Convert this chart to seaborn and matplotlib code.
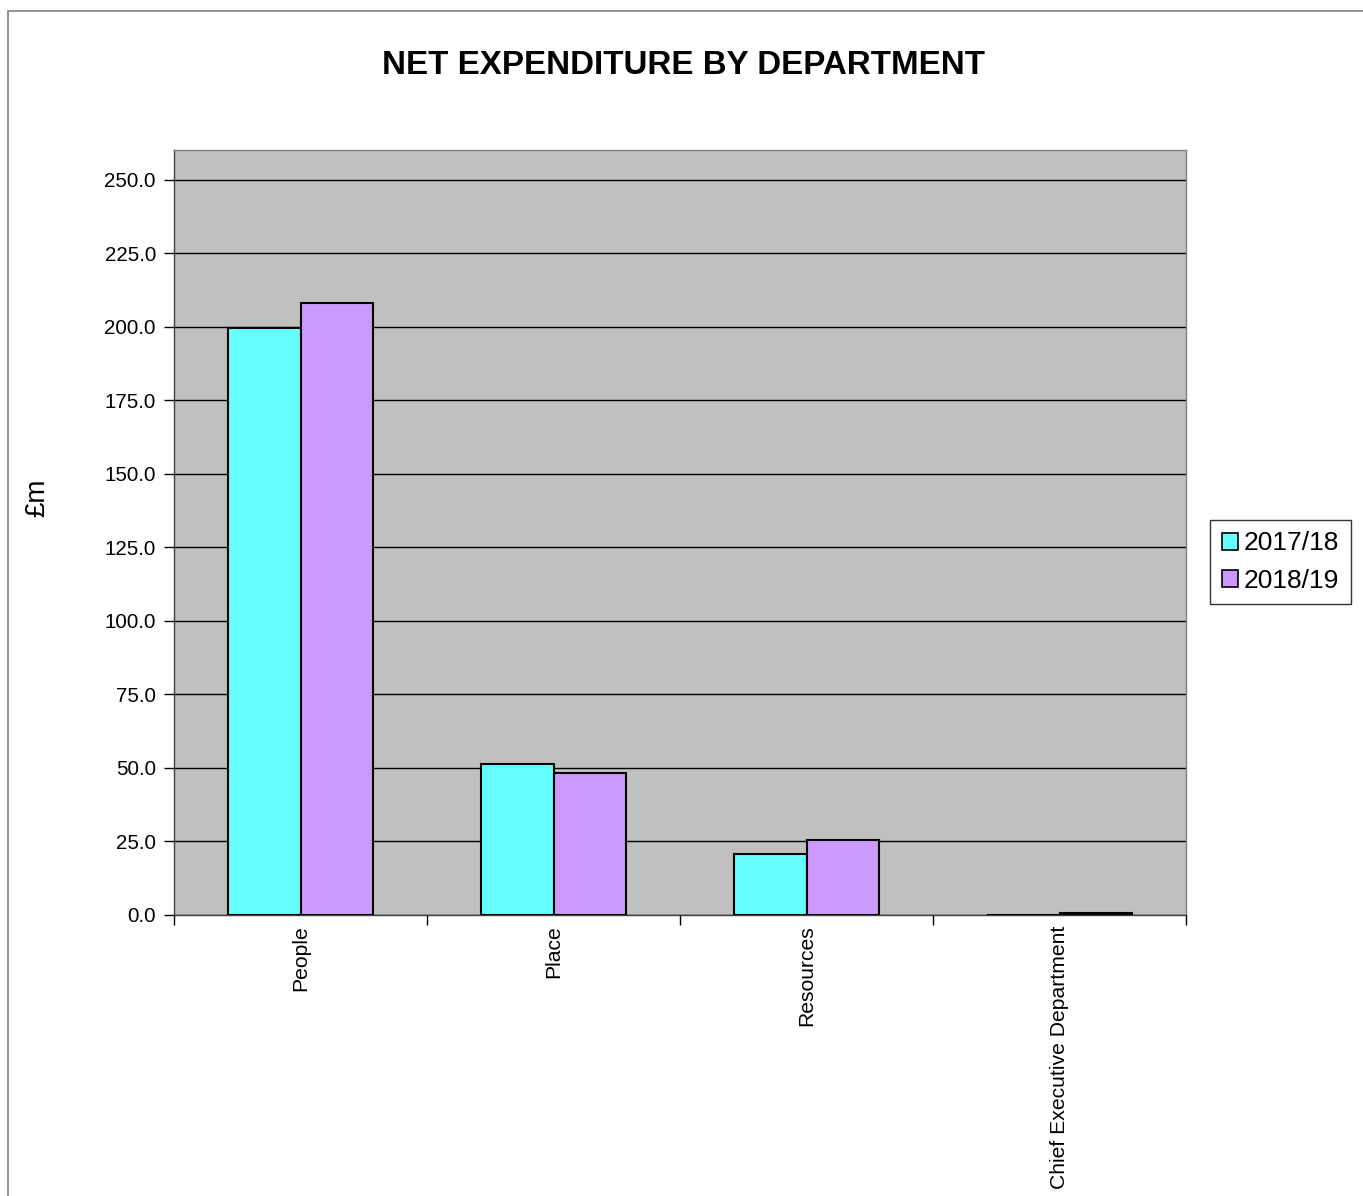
import matplotlib
matplotlib.use("Agg")
import matplotlib.pyplot as plt
from matplotlib.patches import Patch, Rectangle
from matplotlib.ticker import FixedLocator
import seaborn as sns
import pandas as pd

departments = ["People", "Place", "Resources", "Chief Executive Department"]
years = ["2017/18", "2018/19"]
values_2017 = [199.8, 51.4, 20.6, 0.0]
values_2018 = [208.1, 48.2, 25.5, 0.8]
colors = ["#66FFFF", "#CC99FF"]

df = pd.DataFrame({
    "Department": departments * 2,
    "Year": [years[0]] * 4 + [years[1]] * 4,
    "Value": values_2017 + values_2018,
})

sns.set_theme(style="white")
plt.rcParams["font.family"] = ["Liberation Sans", "DejaVu Sans"]
plt.rcParams["text.color"] = "black"
plt.rcParams["xtick.color"] = "black"
plt.rcParams["ytick.color"] = "black"
plt.rcParams["axes.labelcolor"] = "black"

fig = plt.figure(figsize=(13.63, 11.96), dpi=100)
ax = fig.add_axes([174 / 1363, 1 - 915 / 1196, (1186 - 174) / 1363, (915 - 150) / 1196])
ax.set_facecolor("#C0C0C0")

sns.barplot(data=df, x="Department", y="Value", hue="Year", palette=colors,
            saturation=1, width=0.57, edgecolor="black", linewidth=1.5, gap=0,
            ax=ax, legend=False, zorder=3)

ax.set_ylim(0, 260.2)
ax.set_xlim(-0.5, 3.5)
ax.set_yticks([i * 25 for i in range(11)])
ax.set_yticklabels([f"{i * 25:.1f}" for i in range(11)], fontsize=14.8)
ax.grid(axis="y", color="black", linewidth=1, zorder=1)
ax.set_axisbelow(True)
ax.tick_params(axis="y", which="major", direction="out", length=7, width=1, color="black", left=True, pad=6)

ax.set_xticks(range(4))
ax.set_xticklabels(departments, rotation=90, fontsize=15.2, va="top", ha="center")
ax.tick_params(axis="x", which="major", length=0, pad=7.5)
ax.xaxis.set_minor_locator(FixedLocator([-0.5, 0.5, 1.5, 2.5, 3.5]))
ax.tick_params(axis="x", which="minor", direction="out", length=7, width=1, color="black", bottom=True)

for s in ax.spines.values():
    s.set_color("#808080")
    s.set_linewidth(1)
ax.spines["left"].set_color("#404040")
ax.spines["bottom"].set_color("#404040")

ax.set_xlabel("")
ax.set_ylabel("")
fig.text(37 / 1363, 1 - 498 / 1196, "£m", fontsize=20, rotation=90, ha="center", va="center")

fig.text(683 / 1363, 1 - 66 / 1196, "NET EXPENDITURE BY DEPARTMENT", fontsize=23.9,
         fontweight="bold", ha="center", va="center")

handles = [Patch(facecolor=c, edgecolor="black", linewidth=1.2) for c in colors]
leg = fig.legend(handles, years, loc="center left", bbox_to_anchor=(1210 / 1363, 1 - 562 / 1196),
                 fontsize=19, frameon=True, fancybox=False, handlelength=0.62, handleheight=0.62,
                 handletextpad=0.2, borderpad=0.45, labelspacing=0.5, borderaxespad=0)
leg.get_frame().set_edgecolor("black")
leg.get_frame().set_linewidth(1)

fig.patches.append(Rectangle((8 / 1363, -0.1), 1.2, 1.1 - 11 / 1196, transform=fig.transFigure,
                             fill=False, edgecolor="#808080", linewidth=1.2, zorder=0))

fig.savefig("out.png", dpi=100, facecolor="white")
